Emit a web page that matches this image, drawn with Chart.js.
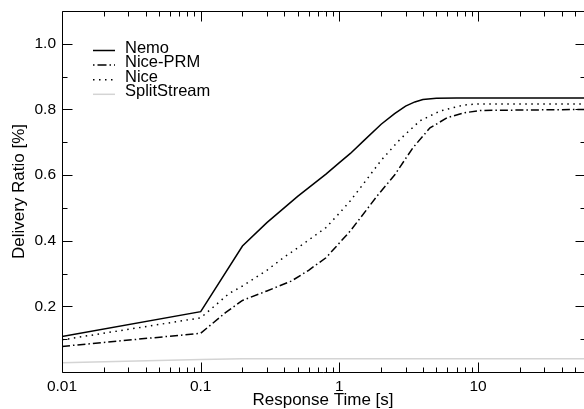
<!DOCTYPE html>
<html>
<head>
<meta charset="utf-8">
<script src="https://cdn.jsdelivr.net/npm/chart.js@4/dist/chart.umd.min.js"></script>
<style>
html,body{margin:0;padding:0;background:#fff;}
#wrap{width:584px;height:409px;position:relative;}
</style>
</head>
<body>
<div id="wrap"><canvas id="c" width="584" height="409"></canvas></div>
<script>
// ---- data ----
const seriesNames = ["Nemo", "Nice-PRM", "Nice", "SplitStream"];

const nemoX = [0.01, 0.1, 0.2, 0.3, 0.5, 0.8, 1, 1.2, 1.5, 2, 2.5, 3, 3.5, 4, 5, 7, 60];
const nemoY = [0.108, 0.184, 0.384, 0.455, 0.535, 0.603, 0.638, 0.666, 0.705, 0.755, 0.787, 0.81, 0.823, 0.83, 0.834, 0.835, 0.835];

const prmX = [0.01, 0.1, 0.15, 0.2, 0.3, 0.45, 0.6, 0.8, 1.2, 1.9, 2.5, 3, 3.4, 4.5, 6, 8, 10.5, 60];
const prmY = [0.078, 0.118, 0.18, 0.218, 0.247, 0.277, 0.31, 0.348, 0.43, 0.54, 0.6, 0.65, 0.684, 0.744, 0.775, 0.79, 0.797, 0.8];

const niceX = [0.01, 0.1, 0.16, 0.2, 0.3, 0.4, 0.5, 0.8, 1, 1.2, 1.5, 2, 2.75, 3.8, 5.3, 7.8, 10, 60];
const niceY = [0.098, 0.165, 0.239, 0.262, 0.31, 0.35, 0.378, 0.44, 0.484, 0.522, 0.575, 0.645, 0.71, 0.765, 0.795, 0.813, 0.817, 0.817];

const splitX = [0.01, 0.1, 0.2, 60];
const splitY = [0.028, 0.038, 0.04, 0.04];

const xTickValues = [0.01, 0.1, 1, 10];
const xTickLabels = ["0.01", "0.1", "1", "10"];
const yTickValues = [0.2, 0.4, 0.6, 0.8, 1.0];
const yTickLabels = ["0.2", "0.4", "0.6", "0.8", "1.0"];
const yMinorValues = [0.1, 0.2, 0.3, 0.4, 0.5, 0.6, 0.7, 0.8, 0.9, 1.0];
const xMinorMultipliers = [2, 3, 4, 5, 6, 7, 8, 9];

const X_MIN = 0.01, X_MAX = 58, Y_MIN = 0, Y_MAX = 1.1;

function pts(xs, ys) { return xs.map((x, i) => ({x: x, y: ys[i]})); }

const FONT = "'Liberation Sans', Arial, Helvetica, sans-serif";

// ---- plugins ----
const framePlugin = {
  id: 'frame',
  afterDatasetsDraw(chart) {
    const ctx = chart.ctx, a = chart.chartArea;
    const xs = chart.scales.x, ys = chart.scales.y;
    ctx.save();
    ctx.strokeStyle = '#000';
    ctx.lineWidth = 1;
    const L = Math.round(a.left) + 0.5, R = Math.round(a.right) + 1.5;
    const T = Math.round(a.top) + 0.5, B = Math.round(a.bottom) + 0.5;
    ctx.beginPath();
    ctx.moveTo(L, T); ctx.lineTo(R, T); ctx.lineTo(R, B); ctx.lineTo(L, B); ctx.closePath();
    ctx.stroke();
    ctx.beginPath();
    yMinorValues.forEach(v => {
      const y = Math.round(ys.getPixelForValue(v)) + 0.5;
      const major = yTickValues.some(t => Math.abs(t - v) < 1e-9);
      const len = major ? 10 : 5;
      ctx.moveTo(L, y); ctx.lineTo(L + len, y);
      ctx.moveTo(R, y); ctx.lineTo(R - len, y);
    });
    const xt = [];
    xTickValues.forEach(v => xt.push([v, 10]));
    xTickValues.forEach(v => xMinorMultipliers.forEach(m => xt.push([v * m, 5])));
    xt.forEach(([v, len]) => {
      if (v < X_MIN || v > X_MAX) return;
      const x = Math.round(xs.getPixelForValue(v)) + 0.5;
      ctx.moveTo(x, B); ctx.lineTo(x, B - len);
      ctx.moveTo(x, T); ctx.lineTo(x, T + len);
    });
    ctx.stroke();
    ctx.restore();
  }
};

const legendPlugin = {
  id: 'innerLegend',
  afterDatasetsDraw(chart) {
    const ctx = chart.ctx;
    ctx.save();
    ctx.font = "16.5px " + FONT;
    ctx.textBaseline = 'middle';
    ctx.fillStyle = '#000';
    chart.data.datasets.forEach((ds, i) => {
      const y = 48 + i * 14.6;
      ctx.beginPath();
      ctx.strokeStyle = ds.borderColor;
      ctx.lineWidth = ds.borderWidth;
      ctx.setLineDash(ds.legendDash || []);
      ctx.moveTo(93, y + 2.5); ctx.lineTo(115, y + 2.5);
      ctx.stroke();
      ctx.setLineDash([]);
      ctx.fillText(ds.label, 125, y);
    });
    ctx.restore();
  }
};

new Chart(document.getElementById('c'), {
  type: 'line',
  data: {
    datasets: [
      {label: seriesNames[0], data: pts(nemoX, nemoY), borderColor: '#000', borderWidth: 1.5, pointRadius: 0, tension: 0, fill: false},
      {label: seriesNames[1], data: pts(prmX, prmY), borderColor: '#000', borderWidth: 1.5, borderDash: [8, 3, 1.5, 3], legendDash: [1.5, 3, 9, 3], pointRadius: 0, tension: 0, fill: false},
      {label: seriesNames[2], data: pts(niceX, niceY), borderColor: '#000', borderWidth: 1.5, borderDash: [1.5, 4.5], legendDash: [1.5, 4.5], pointRadius: 0, tension: 0, fill: false},
      {label: seriesNames[3], data: pts(splitX, splitY), borderColor: '#d4d4d4', borderWidth: 1.5, pointRadius: 0, tension: 0, fill: false}
    ]
  },
  options: {
    responsive: false,
    animation: false,
    devicePixelRatio: 1,
    layout: {padding: {top: 11, right: 0, left: 0, bottom: 0}},
    plugins: {legend: {display: false}, tooltip: {enabled: false}},
    scales: {
      x: {
        type: 'logarithmic',
        min: X_MIN, max: X_MAX,
        grid: {display: false, drawTicks: false},
        border: {display: false},
        afterBuildTicks: s => { s.ticks = xTickValues.map(v => ({value: v})); },
        afterFit: s => { s.height = 37; s.paddingRight = 0; },
        ticks: {
          color: '#000', font: {family: FONT, size: 15.5}, padding: 5, autoSkip: false, maxRotation: 0,
          callback: (v, i) => xTickLabels[i]
        },
        title: {display: true, text: 'Response Time [s]', color: '#000', font: {family: FONT, size: 17, lineHeight: 1}, padding: 0}
      },
      y: {
        min: Y_MIN, max: Y_MAX,
        grid: {display: false, drawTicks: false},
        border: {display: false},
        afterBuildTicks: s => { s.ticks = yTickValues.map(v => ({value: v})); },
        afterFit: s => { s.width = 62; s.paddingTop = 0; s.paddingBottom = 0; },
        ticks: {
          color: '#000', font: {family: FONT, size: 15.5}, padding: 6, autoSkip: false,
          callback: (v, i) => yTickLabels[i]
        },
        title: {display: true, text: 'Delivery Ratio [%]', color: '#000', font: {family: FONT, size: 17, lineHeight: 1}, padding: {top: 11, bottom: 0}}
      }
    }
  },
  plugins: [framePlugin, legendPlugin]
});
</script>
</body>
</html>
